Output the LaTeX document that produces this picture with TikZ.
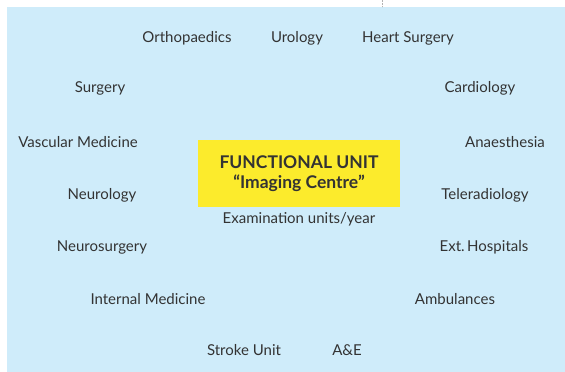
\documentclass[tikz,border=0pt]{standalone}
\usepackage{fontspec}
\setmainfont{Lato}
\usepackage{xcolor}
\usepackage{tikz}

\definecolor{paneblue}{HTML}{CFECFA}
\definecolor{unityellow}{HTML}{FCEB2C}
\definecolor{labelgray}{HTML}{333333}

\begin{document}
\begin{tikzpicture}[x=1pt,y=-1pt,
                    dept/.style={text=labelgray,font=\fontsize{15}{17}\selectfont,inner sep=0pt},
                    unit/.style={fill=unityellow,text=labelgray,
                    minimum width=202pt,minimum height=67pt,
                    font=\bfseries\fontsize{17.5}{19.5}\selectfont,
                    align=center,inner sep=0pt}]
    \useasboundingbox (0,0) rectangle (565,372);
    \fill[paneblue] (7,7) rectangle (565,372);
    \draw[gray!60,densely dotted] (382,0) -- (382,7);

    \node[unit](fu) at (299,173.5) {FUNCTIONAL UNIT\\``Imaging Centre''};
    \node[dept](exam) at (299,219) {Examination units/year};

    \node[dept](ortho) at (187,38) {Orthopaedics};
    \node[dept](uro) at (297,38) {Urology};
    \node[dept](heart) at (408,38) {Heart Surgery};
    \node[dept](surg) at (100,88) {Surgery};
    \node[dept](cardio) at (480,88) {Cardiology};
    \node[dept](vasc) at (78,142) {Vascular Medicine};
    \node[dept](anaes) at (505,142) {Anaesthesia};
    \node[dept](neuro) at (102,195) {Neurology};
    \node[dept](telerad) at (485,195) {Teleradiology};
    \node[dept](nsurg) at (102,247) {Neurosurgery};
    \node[dept](exthosp) at (484,247) {Ext.\,Hospitals};
    \node[dept](intmed) at (148,299) {Internal Medicine};
    \node[dept](amb) at (455,299) {Ambulances};
    \node[dept](stroke) at (244,350) {Stroke Unit};
    \node[dept](ae) at (347,350) {A\&E};
\end{tikzpicture}
\end{document}
